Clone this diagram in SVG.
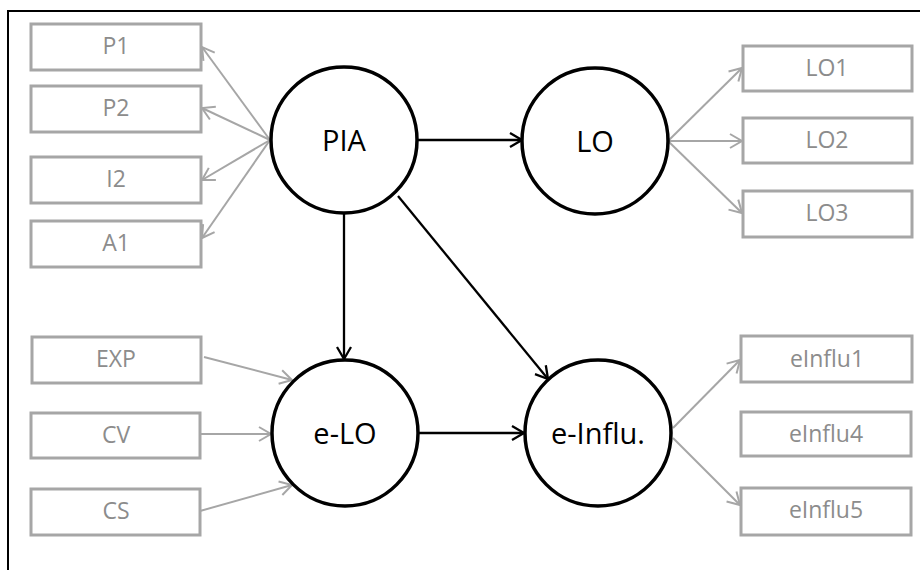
<svg xmlns="http://www.w3.org/2000/svg" width="920" height="570" viewBox="0 0 920 570">
<defs>
<marker id="ag" markerUnits="userSpaceOnUse" markerWidth="16" markerHeight="18" refX="13" refY="8" orient="auto" viewBox="0 0 16 16">
<path d="M1,1 L13,8 L1,15" fill="none" stroke="#a6a6a6" stroke-width="2"/>
</marker>
<marker id="ab" markerUnits="userSpaceOnUse" markerWidth="16" markerHeight="18" refX="13" refY="8" orient="auto" viewBox="0 0 16 16">
<path d="M1,1 L13,8 L1,15" fill="none" stroke="#000" stroke-width="2.3"/>
</marker>
<style>
.box{fill:#fff;stroke:#a6a6a6;stroke-width:3}
.bt{font-family:"Open Sans","Liberation Sans",sans-serif;font-size:23px;fill:#8c8c8c;text-anchor:middle}
.lat{fill:#fff;stroke:#000;stroke-width:3.5}
.ct{font-family:"Open Sans","Liberation Sans",sans-serif;font-size:29px;fill:#000;text-anchor:middle}
.g{stroke:#a6a6a6;stroke-width:2;fill:none;marker-end:url(#ag)}
.k{stroke:#000;stroke-width:2.3;fill:none;marker-end:url(#ab)}
</style>
</defs>
<rect width="920" height="570" fill="#fff"/>
<path d="M8,570 V11 H920" fill="none" stroke="#000" stroke-width="2"/>
<g id="connectors">
<line class="g" x1="270" y1="140" x2="202" y2="47"/>
<line class="g" x1="270" y1="140" x2="202" y2="108"/>
<line class="g" x1="270" y1="140" x2="202" y2="180"/>
<line class="g" x1="270" y1="140" x2="202" y2="238"/>
<line class="g" x1="668" y1="141" x2="742" y2="68"/>
<line class="g" x1="668" y1="141" x2="742" y2="141"/>
<line class="g" x1="668" y1="141" x2="742" y2="213"/>
<line class="g" x1="204" y1="357" x2="292" y2="380"/>
<line class="g" x1="201" y1="434" x2="271" y2="434"/>
<line class="g" x1="200" y1="511" x2="292" y2="485"/>
<line class="g" x1="673" y1="428" x2="740" y2="360"/>
<line class="g" x1="673" y1="438" x2="740" y2="505"/>
<line class="k" x1="418" y1="140" x2="522" y2="140"/>
<line class="k" x1="344" y1="213" x2="344" y2="359"/>
<line class="k" x1="398" y1="196" x2="548" y2="379"/>
<line class="k" x1="418" y1="433" x2="524" y2="433"/>
</g>
<g id="P1"><rect class="box" x="31" y="24" width="170" height="46"/><text class="bt" x="116" y="54">P1</text></g>
<g id="P2"><rect class="box" x="31" y="86" width="170" height="46"/><text class="bt" x="116" y="116">P2</text></g>
<g id="I2"><rect class="box" x="31" y="157" width="170" height="46"/><text class="bt" x="116" y="187">I2</text></g>
<g id="A1"><rect class="box" x="31" y="221" width="170" height="46"/><text class="bt" x="116" y="251">A1</text></g>
<g id="LO1"><rect class="box" x="743" y="46" width="169" height="45"/><text class="bt" x="827" y="76">LO1</text></g>
<g id="LO2"><rect class="box" x="743" y="118" width="169" height="45"/><text class="bt" x="827" y="148">LO2</text></g>
<g id="LO3"><rect class="box" x="743" y="191" width="169" height="46"/><text class="bt" x="827" y="221">LO3</text></g>
<g id="EXP"><rect class="box" x="32" y="337" width="169" height="46"/><text class="bt" x="116" y="367">EXP</text></g>
<g id="CV"><rect class="box" x="31" y="413" width="169" height="45"/><text class="bt" x="116" y="443">CV</text></g>
<g id="CS"><rect class="box" x="31" y="489" width="169" height="46"/><text class="bt" x="116" y="519">CS</text></g>
<g id="eInflu1"><rect class="box" x="741" y="336" width="171" height="46"/><text class="bt" x="827" y="367">eInflu1</text></g>
<g id="eInflu4"><rect class="box" x="741" y="412" width="170" height="44"/><text class="bt" x="826" y="442">eInflu4</text></g>
<g id="eInflu5"><rect class="box" x="741" y="488" width="170" height="47"/><text class="bt" x="826" y="518">eInflu5</text></g>
<g id="PIA"><circle class="lat" cx="344" cy="140" r="73"/><text class="ct" x="344" y="151">PIA</text></g>
<g id="LO"><circle class="lat" cx="595" cy="141" r="73"/><text class="ct" x="595" y="152">LO</text></g>
<g id="e-LO"><circle class="lat" cx="345" cy="433" r="73"/><text class="ct" x="345" y="444">e-LO</text></g>
<g id="e-Influ"><circle class="lat" cx="598" cy="433" r="73"/><text class="ct" x="598" y="444">e-Influ.</text></g>
</svg>
